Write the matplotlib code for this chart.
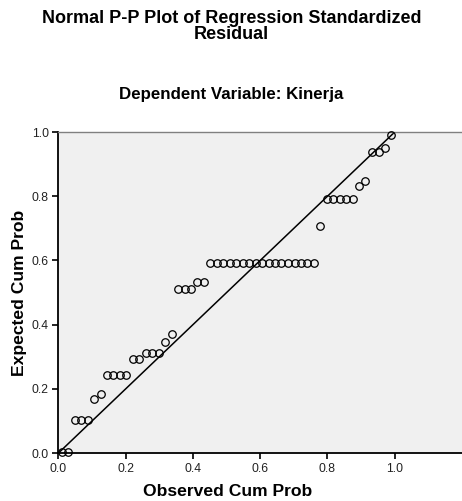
import matplotlib
matplotlib.use("Agg")
import matplotlib.pyplot as plt
import numpy as np

plt.rcParams['font.family'] = ['Liberation Sans', 'DejaVu Sans']

# observed cumulative probability (x) and expected cumulative probability (y)
observed = [0.010, 0.029, 0.048, 0.067, 0.087, 0.106, 0.125, 0.144, 0.163, 0.183,
            0.202, 0.221, 0.240, 0.260, 0.279, 0.298, 0.317, 0.337, 0.356, 0.375,
            0.394, 0.413, 0.433, 0.452, 0.471, 0.490, 0.510, 0.529, 0.548, 0.567,
            0.587, 0.606, 0.625, 0.644, 0.663, 0.683, 0.702, 0.721, 0.740, 0.760,
            0.779, 0.798, 0.817, 0.837, 0.856, 0.875, 0.894, 0.913, 0.933, 0.952,
            0.971, 0.990]
expected = [0.003, 0.003, 0.103, 0.103, 0.103, 0.167, 0.183, 0.242, 0.242, 0.242,
            0.242, 0.292, 0.292, 0.312, 0.312, 0.312, 0.347, 0.370, 0.511, 0.511,
            0.511, 0.534, 0.534, 0.593, 0.593, 0.593, 0.593, 0.593, 0.593, 0.593,
            0.593, 0.593, 0.593, 0.593, 0.593, 0.593, 0.593, 0.593, 0.593, 0.593,
            0.706, 0.791, 0.791, 0.791, 0.791, 0.791, 0.833, 0.847, 0.937, 0.937,
            0.949, 0.991]
ticks = [0.0, 0.2, 0.4, 0.6, 0.8, 1.0]

fig = plt.figure(figsize=(4.62, 5.01), dpi=100)
ax = fig.add_axes([0.1266, 0.0958, 0.8734, 0.6407])
ax.set_facecolor('#f0f0f0')

# reference diagonal
ax.plot([0, 1], [0, 1], color='black', linewidth=1.1, zorder=2)
ax.plot(observed, expected, linestyle='none', marker='o', markersize=5.4,
        markerfacecolor='none', markeredgecolor='black', markeredgewidth=0.9,
        zorder=3, clip_on=False)

ax.set_xlim(0, 1.2)
ax.set_ylim(0, 1.0)
ax.set_xticks(ticks)
ax.set_yticks(ticks)
ax.set_xticklabels(['%.1f' % t for t in ticks])
ax.set_yticklabels(['%.1f' % t for t in ticks])
ax.tick_params(direction='out', length=4, width=1.2, labelsize=8.7,
               colors='black', labelcolor='#222222', pad=3)

for side in ['left', 'bottom']:
    ax.spines[side].set_color('black')
    ax.spines[side].set_linewidth(1.3)
ax.spines['top'].set_color('#808080')
ax.spines['top'].set_linewidth(1.0)
ax.spines['right'].set_visible(False)

fig.text(0.501, 0.963, 'Normal P-P Plot of Regression Standardized',
         ha='center', va='center', fontsize=13, fontweight='bold')
fig.text(0.501, 0.931, 'Residual',
         ha='center', va='center', fontsize=13, fontweight='bold')
fig.text(0.501, 0.812, 'Dependent Variable: Kinerja', ha='center', va='center',
         fontsize=12.2, fontweight='bold')
fig.text(0.492, 0.004, 'Observed Cum Prob', ha='center', va='bottom',
         fontsize=12.6, fontweight='bold')
fig.text(0.043, 0.416, 'Expected Cum Prob', ha='center', va='center',
         rotation=90, fontsize=12.6, fontweight='bold')

fig.savefig('out.png', dpi=100)
